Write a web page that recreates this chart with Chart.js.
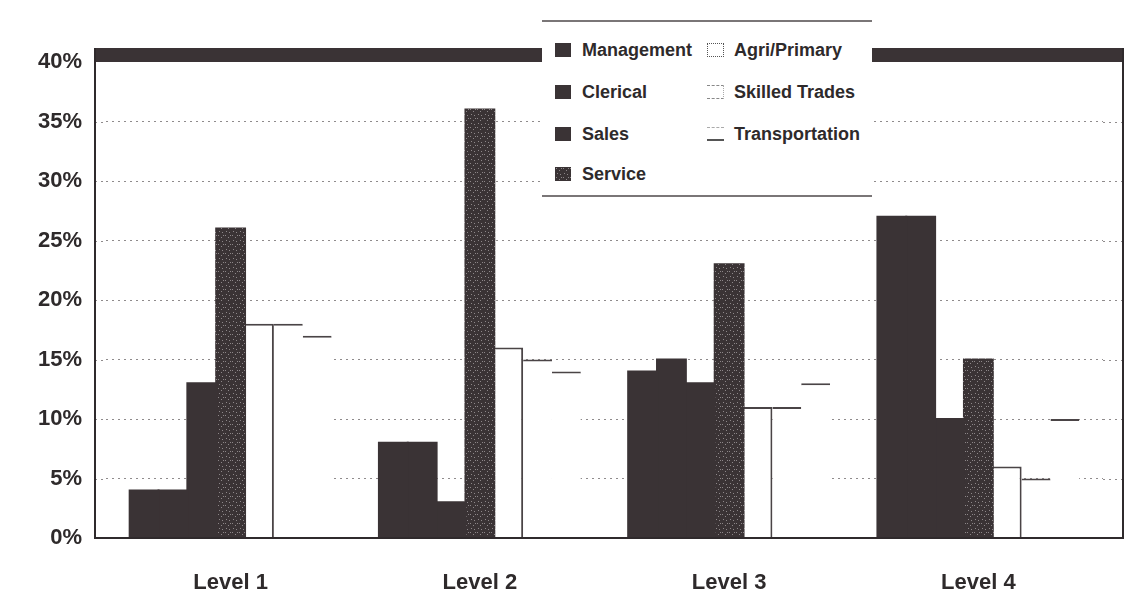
<!DOCTYPE html>
<html><head><meta charset="utf-8">
<script src="https://cdn.jsdelivr.net/npm/chart.js@4.4.0/dist/chart.umd.min.js"></script>
<style>
html,body{margin:0;padding:0;background:#fff;}
#wrap{position:relative;width:1145px;height:602px;overflow:hidden;}
#legend{position:absolute;left:542px;top:20px;width:330px;height:177px;background:#fff;border-top:2px solid #7a7677;border-bottom:2px solid #7a7677;box-sizing:border-box;font-family:"Liberation Sans",Arial,sans-serif;font-weight:bold;font-size:18px;color:#2e2a2b;}
.item{position:absolute;height:20px;display:flex;align-items:center;white-space:nowrap;}
.sw{width:16px;height:14px;box-sizing:border-box;flex:none;}
</style></head><body>
<div id="wrap"><canvas id="c" width="1145" height="602"></canvas><div id="legend"></div></div>
<script>
const categories = ['Level 1', 'Level 2', 'Level 3', 'Level 4'];
const management = [4, 8, 14, 27];
const clerical = [4, 8, 15, 27];
const sales = [13, 3, 13, 10];
const service = [26, 36, 23, 15];
const agriPrimary = [18, 16, 11, 6];
const skilledTrades = [18, 15, 11, 5];
const transportation = [17, 14, 13, 10];
const yMin = 0, yMax = 40, yStep = 5;

const DARK = '#3a3335';
const LINE = '#4a4446';
const TEXT = '#2e2a2b';

// speckled texture for Service
const pc = document.createElement('canvas');
pc.width = 7; pc.height = 9;
const px = pc.getContext('2d');
px.fillStyle = DARK; px.fillRect(0, 0, 7, 9);
px.fillStyle = '#8d8789';
[[1,1],[4,3],[2,6],[5,7],[6,1]].forEach(p => px.fillRect(p[0], p[1], 1, 1));
const servicePattern = px.createPattern(pc, 'repeat');

const datasets = [
  {label:'Management', data:management, backgroundColor:DARK, borderWidth:0, inflateAmount:1, _sw:'solid'},
  {label:'Clerical', data:clerical, backgroundColor:DARK, borderWidth:0, inflateAmount:1, _sw:'solid'},
  {label:'Sales', data:sales, backgroundColor:DARK, borderWidth:0, inflateAmount:1, _sw:'solid'},
  {label:'Service', data:service, backgroundColor:servicePattern, borderWidth:0, inflateAmount:1, _sw:'tex'},
  {label:'Agri/Primary', data:agriPrimary, backgroundColor:'#ffffff', borderColor:LINE,
   borderWidth:{top:2,right:2,bottom:0,left:0}, borderSkipped:false, _sw:'box'},
  {label:'Skilled Trades', data:skilledTrades, backgroundColor:'#ffffff', borderColor:LINE,
   borderWidth:{top:2,right:0,bottom:0,left:0}, borderSkipped:false, _sw:'dash'},
  {label:'Transportation', data:transportation, backgroundColor:'#ffffff', borderColor:LINE,
   borderWidth:{top:2,right:0,bottom:0,left:0}, borderSkipped:false, _sw:'line'}
];

const FRAME_L = 95, FRAME_R = 1123, FRAME_T = 48;

const framePlugin = {
  id: 'frame',
  beforeDatasetsDraw(chart) {
    const {ctx, chartArea, scales: {y}} = chart;
    ctx.save();
    ctx.strokeStyle = '#8f8b8c'; ctx.lineWidth = 1; ctx.setLineDash([2, 4]);
    y.ticks.forEach(t => {
      if (t.value > yMin && t.value < yMax) {
        const py = Math.round(y.getPixelForValue(t.value)) + 0.5;
        ctx.beginPath();
        ctx.moveTo(FRAME_L, py); ctx.lineTo(chartArea.left, py);
        ctx.moveTo(chartArea.right, py); ctx.lineTo(FRAME_R, py);
        ctx.stroke();
      }
    });
    ctx.restore();
  },
  afterDatasetsDraw(chart) {
    const {ctx, scales: {y}} = chart;
    const top = y.getPixelForValue(yMax), bot = y.getPixelForValue(yMin);
    ctx.save();
    ctx.fillStyle = DARK;
    ctx.fillRect(FRAME_L, FRAME_T, FRAME_R - FRAME_L, top - FRAME_T);
    ctx.strokeStyle = '#2f2a2c'; ctx.lineWidth = 2;
    ctx.beginPath();
    ctx.moveTo(FRAME_L, FRAME_T); ctx.lineTo(FRAME_L, bot);
    ctx.lineTo(FRAME_R, bot); ctx.lineTo(FRAME_R, FRAME_T);
    ctx.stroke();
    ctx.restore();
  }
};

const chart = new Chart(document.getElementById('c'), {
  type: 'bar',
  data: {labels: categories, datasets: datasets},
  options: {
    responsive: false,
    animation: false,
    layout: {padding: {top: 62, right: 42, bottom: 0, left: 0}},
    datasets: {bar: {categoryPercentage: 0.81, barPercentage: 1.0}},
    plugins: {legend: {display: false}, tooltip: {enabled: false}},
    scales: {
      x: {
        grid: {display: false},
        border: {display: false},
        ticks: {color: TEXT, padding: 24, font: {family: '"Liberation Sans", Arial, sans-serif', weight: 'bold', size: 22}},
        afterFit(s) { s.height = 64; }
      },
      y: {
        min: yMin, max: yMax,
        grid: {drawTicks: false, color: c => (c.tick && c.tick.value > yMin && c.tick.value < yMax) ? '#8f8b8c' : 'rgba(0,0,0,0)'},
        border: {display: false, dash: [2, 4]},
        ticks: {stepSize: yStep, color: TEXT, padding: 24,
          font: {family: '"Liberation Sans", Arial, sans-serif', weight: 'bold', size: 22},
          callback: v => v + '%'},
        afterFit(s) { s.width = 106; }
      }
    }
  },
  plugins: [framePlugin]
});

// HTML legend in two columns, built from the chart's datasets
const legend = document.getElementById('legend');
const rowC = [28, 70, 112, 152];
const texURL = pc.toDataURL();
chart.data.datasets.forEach((ds, i) => {
  const col = i < 4 ? 0 : 1;
  const row = i < 4 ? i : i - 4;
  const it = document.createElement('div');
  it.className = 'item';
  it.style.left = (col ? 165 : 13) + 'px';
  it.style.top = (rowC[row] - 10) + 'px';
  const sw = document.createElement('span');
  sw.className = 'sw';
  sw.style.marginRight = (col ? 10 : 11) + 'px';
  if (ds._sw === 'solid') sw.style.background = DARK;
  else if (ds._sw === 'tex') sw.style.background = 'url(' + texURL + ')';
  else if (ds._sw === 'box') { sw.style.width = '17px'; sw.style.border = '1px dotted #555'; sw.style.background = '#fff'; }
  else if (ds._sw === 'dash') { sw.style.width = '17px'; sw.style.borderTop = '1px dashed #888'; sw.style.borderBottom = '1px dashed #888'; sw.style.borderRight = '1px dotted #aaa'; }
  else if (ds._sw === 'line') { sw.style.width = '17px'; sw.style.borderTop = '1px dashed #aaa'; sw.style.borderBottom = '2px solid #555'; }
  const tx = document.createElement('span');
  tx.textContent = ds.label;
  it.appendChild(sw); it.appendChild(tx);
  legend.appendChild(it);
});
</script></body></html>
